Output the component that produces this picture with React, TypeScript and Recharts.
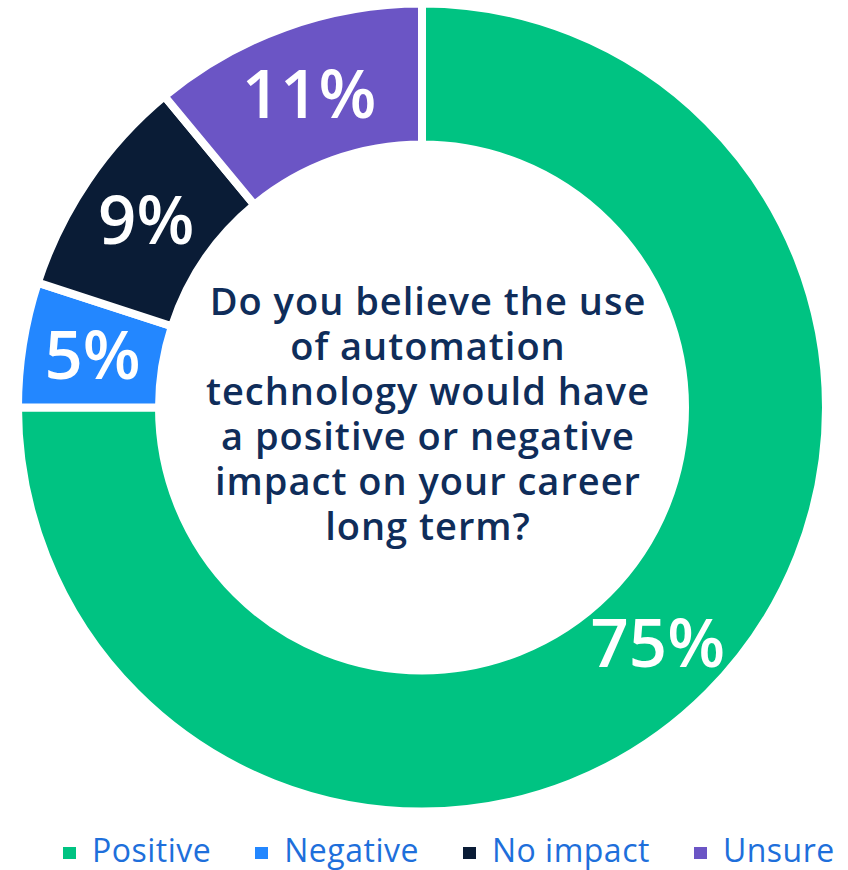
import React from 'react';
import { PieChart, Pie, Cell, Legend, Label } from 'recharts';

const categories = ['Positive', 'Negative', 'No impact', 'Unsure'];
const values = [75, 5, 9, 11];
const colors = ['#00C382', '#2387FF', '#0A1C36', '#6B55C5'];
const questionLines = [
  'Do you believe the use',
  'of automation',
  'technology would have',
  'a positive or negative',
  'impact on your career',
  'long term?',
];

const data = categories.map((name, i) => ({ name, value: values[i] }));

const RAD = Math.PI / 180;
const FONT = "'Open Sans', sans-serif";

const renderSliceLabel = (props: any) => {
  const { cx, cy, midAngle, innerRadius, outerRadius, value } = props;
  const r = (innerRadius + outerRadius) / 2;
  const x = cx + r * Math.cos(-midAngle * RAD);
  const y = cy + r * Math.sin(-midAngle * RAD);
  return (
    <text
      x={x}
      y={y + 24}
      textAnchor="middle"
      fill="#ffffff"
      fontSize={67}
      fontWeight={600}
      fontFamily={FONT}
    >
      {value}%
    </text>
  );
};

const CenterText = (props: any) => {
  const vb = props.viewBox || {};
  const cx = vb.cx ?? 422;
  const cy = vb.cy ?? 407.5;
  return (
    <text
      x={cx + 6}
      y={cy - 92.5}
      textAnchor="middle"
      fill="#0F2D5A"
      fontSize={38}
      fontWeight={600}
      letterSpacing={1}
      fontFamily={FONT}
    >
      {questionLines.map((line, i) => (
        <tspan key={i} x={cx + 6} y={cy - 92.5 + i * 45}>
          {line}
        </tspan>
      ))}
    </text>
  );
};

const renderLegend = () => (
  <div
    style={{
      display: 'flex',
      alignItems: 'center',
      paddingLeft: 63,
      height: 40,
      fontFamily: FONT,
      fontSize: 32,
      lineHeight: '40px',
      letterSpacing: '0.5px',
      color: '#1E6FDB',
      whiteSpace: 'nowrap',
    }}
  >
    {categories.map((name, i) => (
      <div
        key={name}
        style={{ display: 'flex', alignItems: 'center', marginRight: i < categories.length - 1 ? 44 : 0 }}
      >
        <span
          style={{
            display: 'inline-block',
            width: 13,
            height: 12,
            background: colors[i],
            marginRight: 16,
            marginTop: 6,
          }}
        />
        <span>{name}</span>
      </div>
    ))}
  </div>
);

export default function App() {
  return (
    <div style={{ position: 'absolute', left: 0, top: 0, width: 848, height: 870, background: '#fff' }}>
      <PieChart width={848} height={870} margin={{ top: 0, right: 0, bottom: 0, left: 0 }}>
        <Pie
          data={data}
          dataKey="value"
          nameKey="name"
          cx={422}
          cy={407.5}
          innerRadius={263}
          outerRadius={404}
          startAngle={90}
          endAngle={-270}
          stroke="#ffffff"
          strokeWidth={8}
          label={renderSliceLabel}
          labelLine={false}
          isAnimationActive={false}
        >
          {data.map((d, i) => (
            <Cell key={d.name} fill={colors[i]} />
          ))}
          <Label position="center" content={<CenterText />} />
        </Pie>
        <Legend
          content={renderLegend}
          wrapperStyle={{ position: 'absolute', left: 0, top: 830, width: 848 }}
        />
      </PieChart>
    </div>
  );
}
